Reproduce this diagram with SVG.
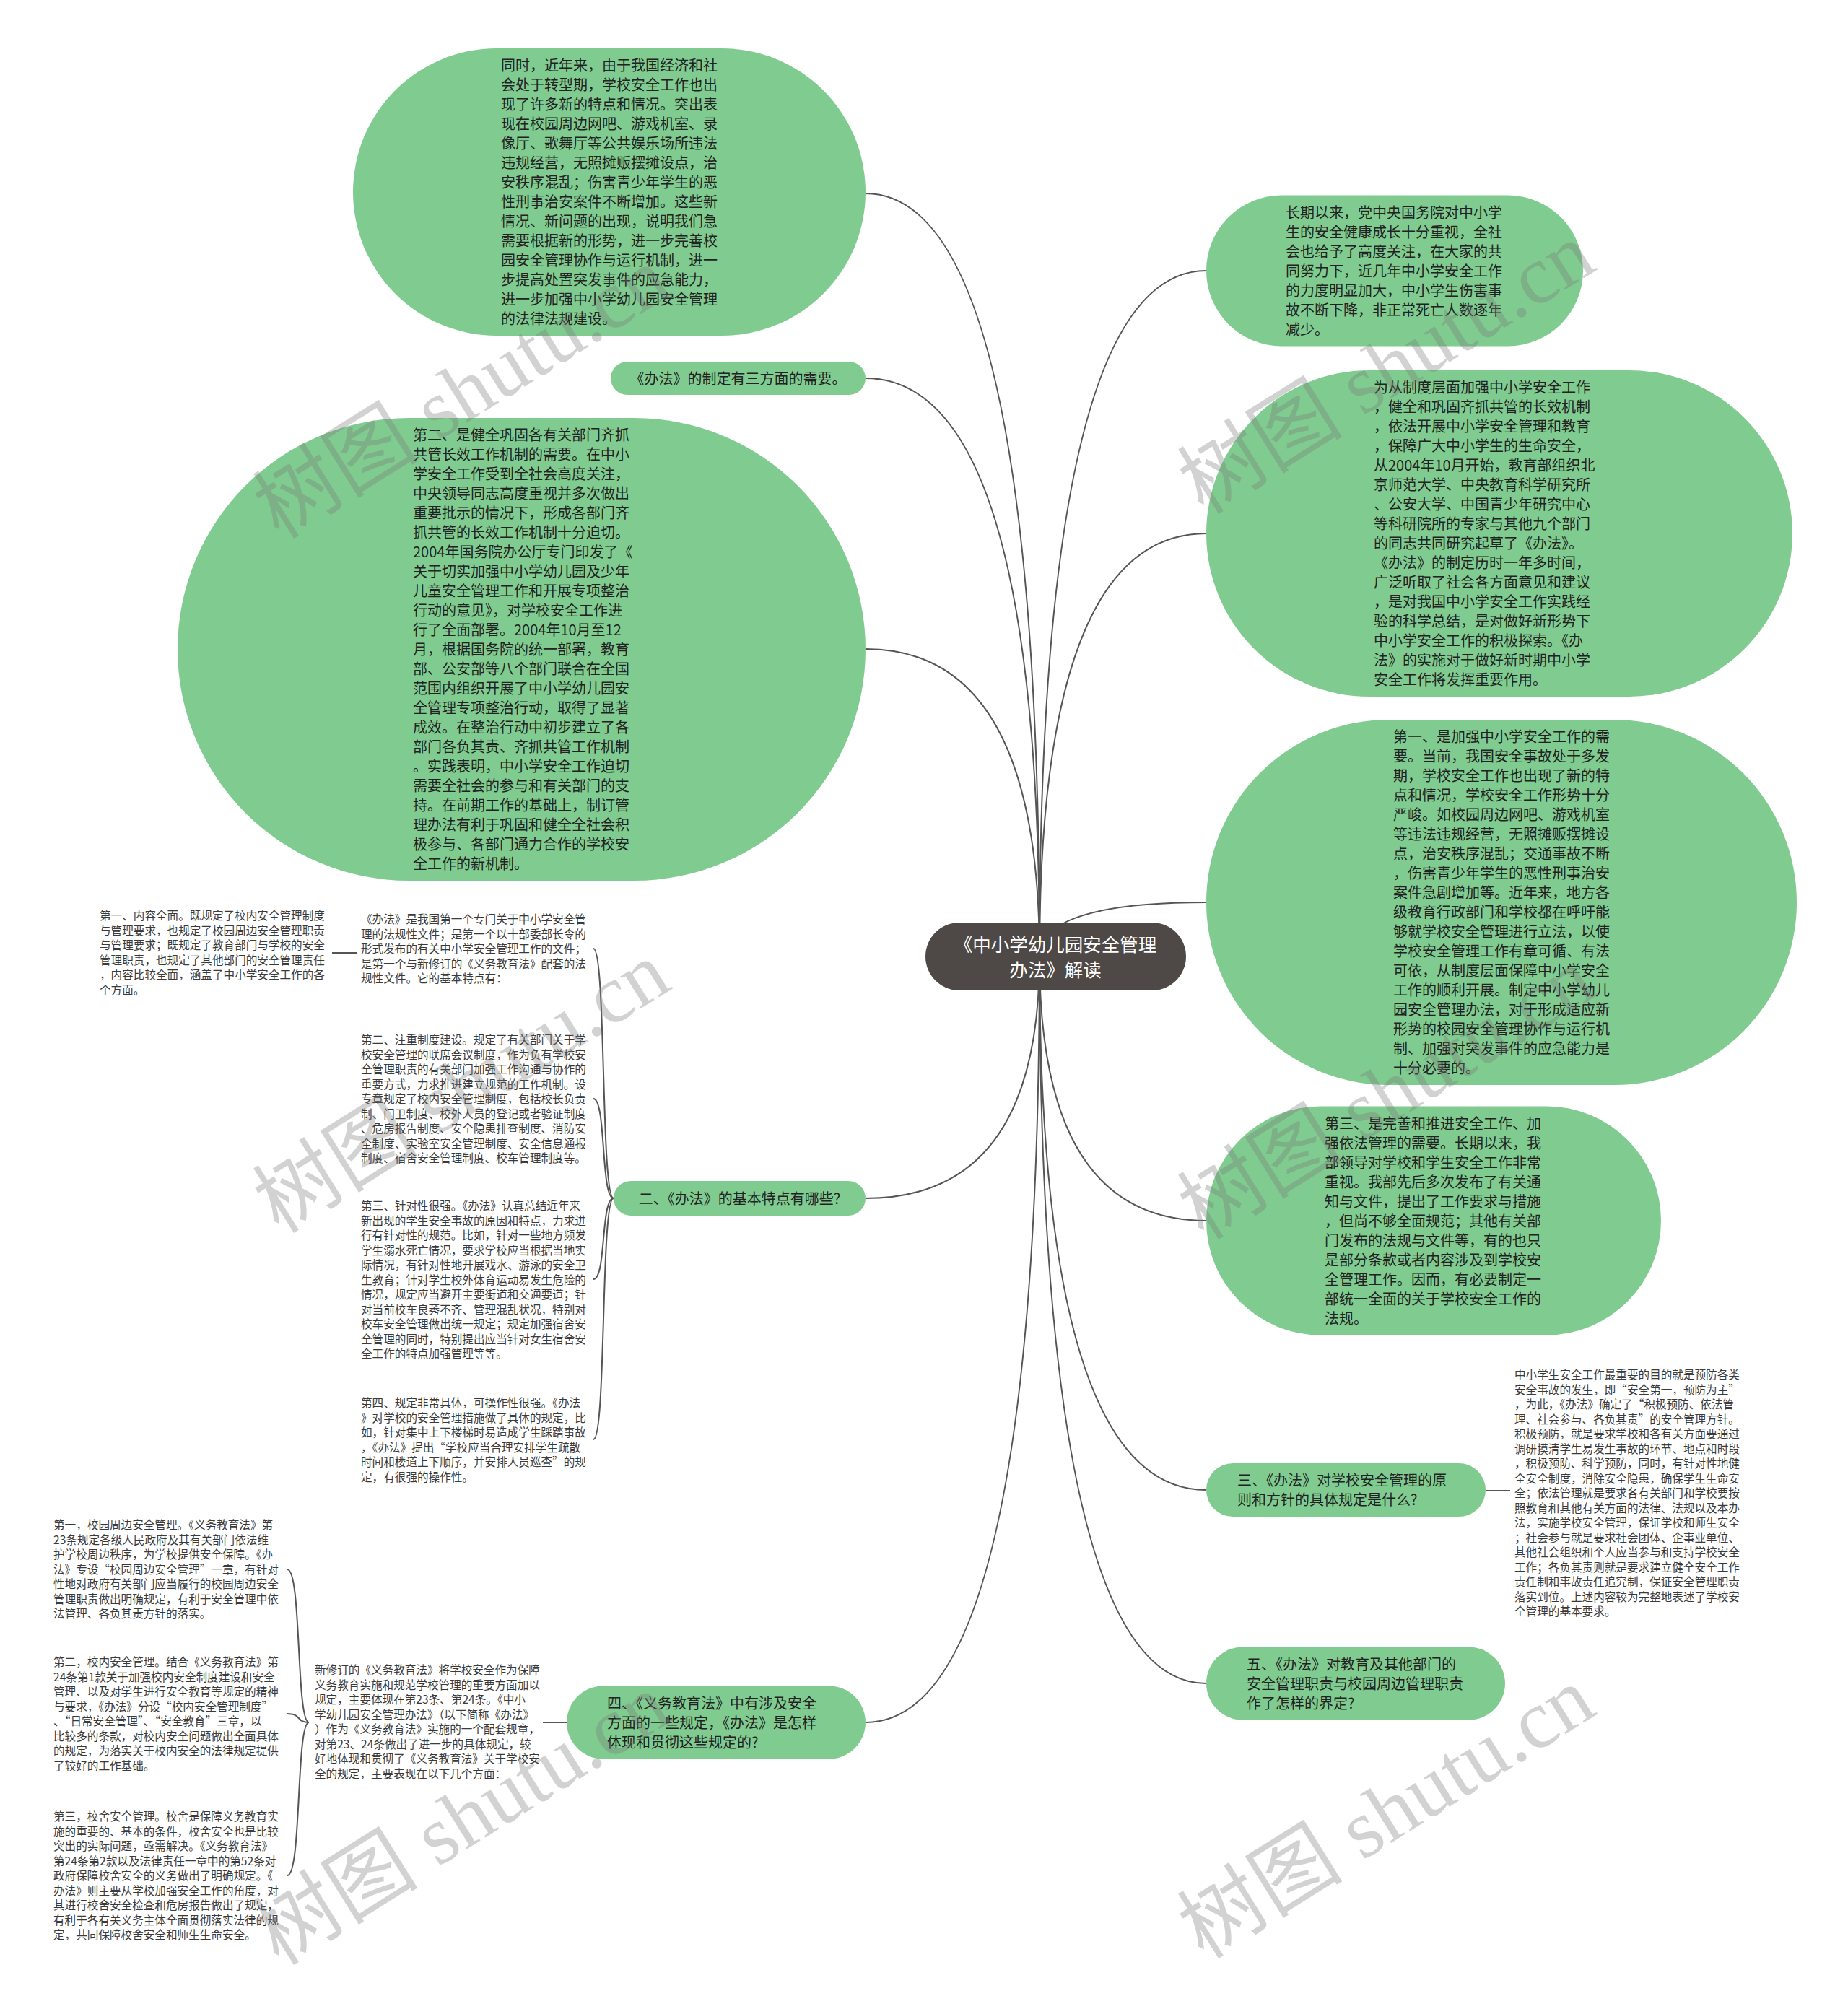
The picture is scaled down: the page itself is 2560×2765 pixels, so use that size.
<svg xmlns="http://www.w3.org/2000/svg" width="2560" height="2765" viewBox="0 0 2560 2765">
<style>
.n{fill:#80cc90}
.root{fill:#4e4946}
.t{font-family:"Noto Sans CJK SC","Noto Sans",sans-serif;font-size:20px;fill:#222}
.s{font-family:"Noto Sans CJK SC","Noto Sans",sans-serif;font-size:15.6px;fill:#3a3a3a}
.rt{font-family:"Noto Sans CJK SC","Noto Sans",sans-serif;font-size:25.5px;fill:#fff}
.c{fill:none;stroke:#555;stroke-width:2}
.wm{font-family:"Liberation Serif","Noto Sans CJK SC",serif;font-size:115px;fill:#7a7a7a;opacity:0.33}
</style>
<rect width="2560" height="2765" fill="#fff"/>
<g id="connectors">
<path class="c" d="M1440,1325 Q1440,268 1199,268"/>
<path class="c" d="M1440,1325 Q1440,524 1199,524"/>
<path class="c" d="M1440,1325 Q1440,899 1199,899"/>
<path class="c" d="M1440,1325 Q1440,1660 1199,1660"/>
<path class="c" d="M1440,1325 Q1440,2386 1199,2386"/>
<path class="c" d="M1440,1325 Q1440,375 1671,375"/>
<path class="c" d="M1440,1325 Q1440,739 1671,739"/>
<path class="c" d="M1440,1325 Q1440,1250 1671,1250"/>
<path class="c" d="M1440,1325 Q1440,1691 1671,1691"/>
<path class="c" d="M1440,1325 Q1440,2064 1671,2064"/>
<path class="c" d="M1440,1325 Q1440,2332 1671,2332"/>
<path class="c" d="M850,1660 C832,1660 840,1314 822,1314"/>
<path class="c" d="M850,1660 C832,1660 840,1522 822,1522"/>
<path class="c" d="M850,1660 C832,1660 840,1772 822,1772"/>
<path class="c" d="M850,1660 C832,1660 840,1994 822,1994"/>
<path class="c" d="M494,1320 L460,1320"/>
<path class="c" d="M785,2386 L752,2386"/>
<path class="c" d="M428,2386 C410,2386 418,2174 398,2174"/>
<path class="c" d="M428,2386 C410,2386 418,2374 398,2374"/>
<path class="c" d="M428,2386 C410,2386 418,2598 398,2598"/>
<path class="c" d="M2059,2065 L2092,2065"/>
</g>
<g id="root">
<rect class="root" x="1282" y="1278" width="361" height="94" rx="47"/>
<text class="rt" text-anchor="middle" x="1462" y="1318">《中小学幼儿园安全管理<tspan x="1462" dy="35">办法》解读</tspan></text>
</g>
<g id="nodeA">
<rect class="n" x="489" y="67" width="710" height="398" rx="199"/>
<text class="t" x="694" y="98"><tspan x="694">同时，近年来，由于我国经济和社</tspan><tspan x="694" dy="27">会处于转型期，学校安全工作也出</tspan><tspan x="694" dy="27">现了许多新的特点和情况。突出表</tspan><tspan x="694" dy="27">现在校园周边网吧、游戏机室、录</tspan><tspan x="694" dy="27">像厅、歌舞厅等公共娱乐场所违法</tspan><tspan x="694" dy="27">违规经营，无照摊贩摆摊设点，治</tspan><tspan x="694" dy="27">安秩序混乱；伤害青少年学生的恶</tspan><tspan x="694" dy="27">性刑事治安案件不断增加。这些新</tspan><tspan x="694" dy="27">情况、新问题的出现，说明我们急</tspan><tspan x="694" dy="27">需要根据新的形势，进一步完善校</tspan><tspan x="694" dy="27">园安全管理协作与运行机制，进一</tspan><tspan x="694" dy="27">步提高处置突发事件的应急能力，</tspan><tspan x="694" dy="27">进一步加强中小学幼儿园安全管理</tspan><tspan x="694" dy="27">的法律法规建设。</tspan></text>
</g>
<g id="nodeB">
<rect class="n" x="846" y="501" width="353" height="46" rx="23"/>
<text class="t" text-anchor="middle" x="1022.5" y="531.6">《办法》的制定有三方面的需要。</text>
</g>
<g id="nodeC">
<rect class="n" x="246" y="579" width="953" height="641" rx="320.5"/>
<text class="t" x="572" y="610"><tspan x="572">第二、是健全巩固各有关部门齐抓</tspan><tspan x="572" dy="27">共管长效工作机制的需要。在中小</tspan><tspan x="572" dy="27">学安全工作受到全社会高度关注，</tspan><tspan x="572" dy="27">中央领导同志高度重视并多次做出</tspan><tspan x="572" dy="27">重要批示的情况下，形成各部门齐</tspan><tspan x="572" dy="27">抓共管的长效工作机制十分迫切。</tspan><tspan x="572" dy="27">2004年国务院办公厅专门印发了《</tspan><tspan x="572" dy="27">关于切实加强中小学幼儿园及少年</tspan><tspan x="572" dy="27">儿童安全管理工作和开展专项整治</tspan><tspan x="572" dy="27">行动的意见》，对学校安全工作进</tspan><tspan x="572" dy="27">行了全面部署。2004年10月至12</tspan><tspan x="572" dy="27">月，根据国务院的统一部署，教育</tspan><tspan x="572" dy="27">部、公安部等八个部门联合在全国</tspan><tspan x="572" dy="27">范围内组织开展了中小学幼儿园安</tspan><tspan x="572" dy="27">全管理专项整治行动，取得了显著</tspan><tspan x="572" dy="27">成效。在整治行动中初步建立了各</tspan><tspan x="572" dy="27">部门各负其责、齐抓共管工作机制</tspan><tspan x="572" dy="27">。实践表明，中小学安全工作迫切</tspan><tspan x="572" dy="27">需要全社会的参与和有关部门的支</tspan><tspan x="572" dy="27">持。在前期工作的基础上，制订管</tspan><tspan x="572" dy="27">理办法有利于巩固和健全全社会积</tspan><tspan x="572" dy="27">极参与、各部门通力合作的学校安</tspan><tspan x="572" dy="27">全工作的新机制。</tspan></text>
</g>
<g id="nodeD">
<rect class="n" x="850" y="1636" width="349" height="48" rx="24"/>
<text class="t" text-anchor="middle" x="1024.5" y="1667.6">二、《办法》的基本特点有哪些?</text>
</g>
<g id="nodeD1">
<text class="s" x="500" y="1279"><tspan x="500">《办法》是我国第一个专门关于中小学安全管</tspan><tspan x="500" dy="20.5">理的法规性文件；是第一个以十部委部长令的</tspan><tspan x="500" dy="20.5">形式发布的有关中小学安全管理工作的文件；</tspan><tspan x="500" dy="20.5">是第一个与新修订的《义务教育法》配套的法</tspan><tspan x="500" dy="20.5">规性文件。它的基本特点有：</tspan></text>
</g>
<g id="nodeD1a">
<text class="s" x="138" y="1274"><tspan x="138">第一、内容全面。既规定了校内安全管理制度</tspan><tspan x="138" dy="20.5">与管理要求，也规定了校园周边安全管理职责</tspan><tspan x="138" dy="20.5">与管理要求；既规定了教育部门与学校的安全</tspan><tspan x="138" dy="20.5">管理职责，也规定了其他部门的安全管理责任</tspan><tspan x="138" dy="20.5">，内容比较全面，涵盖了中小学安全工作的各</tspan><tspan x="138" dy="20.5">个方面。</tspan></text>
</g>
<g id="nodeD2">
<text class="s" x="500" y="1446"><tspan x="500">第二、注重制度建设。规定了有关部门关于学</tspan><tspan x="500" dy="20.5">校安全管理的联席会议制度，作为负有学校安</tspan><tspan x="500" dy="20.5">全管理职责的有关部门加强工作沟通与协作的</tspan><tspan x="500" dy="20.5">重要方式，力求推进建立规范的工作机制。设</tspan><tspan x="500" dy="20.5">专章规定了校内安全管理制度，包括校长负责</tspan><tspan x="500" dy="20.5">制、门卫制度、校外人员的登记或者验证制度</tspan><tspan x="500" dy="20.5">、危房报告制度、安全隐患排查制度、消防安</tspan><tspan x="500" dy="20.5">全制度、实验室安全管理制度、安全信息通报</tspan><tspan x="500" dy="20.5">制度、宿舍安全管理制度、校车管理制度等。</tspan></text>
</g>
<g id="nodeD3">
<text class="s" x="500" y="1676"><tspan x="500">第三、针对性很强。《办法》认真总结近年来</tspan><tspan x="500" dy="20.5">新出现的学生安全事故的原因和特点，力求进</tspan><tspan x="500" dy="20.5">行有针对性的规范。比如，针对一些地方频发</tspan><tspan x="500" dy="20.5">学生溺水死亡情况，要求学校应当根据当地实</tspan><tspan x="500" dy="20.5">际情况，有针对性地开展戏水、游泳的安全卫</tspan><tspan x="500" dy="20.5">生教育；针对学生校外体育运动易发生危险的</tspan><tspan x="500" dy="20.5">情况，规定应当避开主要街道和交通要道；针</tspan><tspan x="500" dy="20.5">对当前校车良莠不齐、管理混乱状况，特别对</tspan><tspan x="500" dy="20.5">校车安全管理做出统一规定；规定加强宿舍安</tspan><tspan x="500" dy="20.5">全管理的同时，特别提出应当针对女生宿舍安</tspan><tspan x="500" dy="20.5">全工作的特点加强管理等等。</tspan></text>
</g>
<g id="nodeD4">
<text class="s" x="500" y="1949"><tspan x="500">第四、规定非常具体，可操作性很强。《办法</tspan><tspan x="500" dy="20.5">》对学校的安全管理措施做了具体的规定，比</tspan><tspan x="500" dy="20.5">如，针对集中上下楼梯时易造成学生踩踏事故</tspan><tspan x="500" dy="20.5">，《办法》提出“学校应当合理安排学生疏散</tspan><tspan x="500" dy="20.5">时间和楼道上下顺序，并安排人员巡查”的规</tspan><tspan x="500" dy="20.5">定，有很强的操作性。</tspan></text>
</g>
<g id="nodeE">
<rect class="n" x="785" y="2335.5" width="414" height="101" rx="50.5"/>
<text class="t" x="841" y="2366.6"><tspan x="841">四、《义务教育法》中有涉及安全</tspan><tspan x="841" dy="27">方面的一些规定，《办法》是怎样</tspan><tspan x="841" dy="27">体现和贯彻这些规定的?</tspan></text>
</g>
<g id="nodeE1">
<text class="s" x="436" y="2319"><tspan x="436">新修订的《义务教育法》将学校安全作为保障</tspan><tspan x="436" dy="20.5">义务教育实施和规范学校管理的重要方面加以</tspan><tspan x="436" dy="20.5">规定，主要体现在第23条、第24条。《中小</tspan><tspan x="436" dy="20.5">学幼儿园安全管理办法》（以下简称《办法》</tspan><tspan x="436" dy="20.5">）作为《义务教育法》实施的一个配套规章，</tspan><tspan x="436" dy="20.5">对第23、24条做出了进一步的具体规定，较</tspan><tspan x="436" dy="20.5">好地体现和贯彻了《义务教育法》关于学校安</tspan><tspan x="436" dy="20.5">全的规定，主要表现在以下几个方面：</tspan></text>
</g>
<g id="nodeE1a">
<text class="s" x="74" y="2118"><tspan x="74">第一，校园周边安全管理。《义务教育法》第</tspan><tspan x="74" dy="20.5">23条规定各级人民政府及其有关部门依法维</tspan><tspan x="74" dy="20.5">护学校周边秩序，为学校提供安全保障。《办</tspan><tspan x="74" dy="20.5">法》专设“校园周边安全管理”一章，有针对</tspan><tspan x="74" dy="20.5">性地对政府有关部门应当履行的校园周边安全</tspan><tspan x="74" dy="20.5">管理职责做出明确规定，有利于安全管理中依</tspan><tspan x="74" dy="20.5">法管理、各负其责方针的落实。</tspan></text>
</g>
<g id="nodeE1b">
<text class="s" x="74" y="2308"><tspan x="74">第二，校内安全管理。结合《义务教育法》第</tspan><tspan x="74" dy="20.5">24条第1款关于加强校内安全制度建设和安全</tspan><tspan x="74" dy="20.5">管理、以及对学生进行安全教育等规定的精神</tspan><tspan x="74" dy="20.5">与要求，《办法》分设“校内安全管理制度”</tspan><tspan x="74" dy="20.5">、“日常安全管理”、“安全教育”三章，以</tspan><tspan x="74" dy="20.5">比较多的条款，对校内安全问题做出全面具体</tspan><tspan x="74" dy="20.5">的规定，为落实关于校内安全的法律规定提供</tspan><tspan x="74" dy="20.5">了较好的工作基础。</tspan></text>
</g>
<g id="nodeE1c">
<text class="s" x="74" y="2522"><tspan x="74">第三，校舍安全管理。校舍是保障义务教育实</tspan><tspan x="74" dy="20.5">施的重要的、基本的条件，校舍安全也是比较</tspan><tspan x="74" dy="20.5">突出的实际问题，亟需解决。《义务教育法》</tspan><tspan x="74" dy="20.5">第24条第2款以及法律责任一章中的第52条对</tspan><tspan x="74" dy="20.5">政府保障校舍安全的义务做出了明确规定。《</tspan><tspan x="74" dy="20.5">办法》则主要从学校加强安全工作的角度，对</tspan><tspan x="74" dy="20.5">其进行校舍安全检查和危房报告做出了规定，</tspan><tspan x="74" dy="20.5">有利于各有关义务主体全面贯彻落实法律的规</tspan><tspan x="74" dy="20.5">定，共同保障校舍安全和师生生命安全。</tspan></text>
</g>
<g id="nodeF">
<rect class="n" x="1671" y="270.5" width="522" height="209" rx="104.5"/>
<text class="t" x="1781" y="301.6"><tspan x="1781">长期以来，党中央国务院对中小学</tspan><tspan x="1781" dy="27">生的安全健康成长十分重视，全社</tspan><tspan x="1781" dy="27">会也给予了高度关注，在大家的共</tspan><tspan x="1781" dy="27">同努力下，近几年中小学安全工作</tspan><tspan x="1781" dy="27">的力度明显加大，中小学生伤害事</tspan><tspan x="1781" dy="27">故不断下降，非正常死亡人数逐年</tspan><tspan x="1781" dy="27">减少。</tspan></text>
</g>
<g id="nodeG">
<rect class="n" x="1671" y="513" width="812" height="452" rx="226"/>
<text class="t" x="1903" y="544"><tspan x="1903">为从制度层面加强中小学安全工作</tspan><tspan x="1903" dy="27">，健全和巩固齐抓共管的长效机制</tspan><tspan x="1903" dy="27">，依法开展中小学安全管理和教育</tspan><tspan x="1903" dy="27">，保障广大中小学生的生命安全，</tspan><tspan x="1903" dy="27">从2004年10月开始，教育部组织北</tspan><tspan x="1903" dy="27">京师范大学、中央教育科学研究所</tspan><tspan x="1903" dy="27">、公安大学、中国青少年研究中心</tspan><tspan x="1903" dy="27">等科研院所的专家与其他九个部门</tspan><tspan x="1903" dy="27">的同志共同研究起草了《办法》。</tspan><tspan x="1903" dy="27">《办法》的制定历时一年多时间，</tspan><tspan x="1903" dy="27">广泛听取了社会各方面意见和建议</tspan><tspan x="1903" dy="27">，是对我国中小学安全工作实践经</tspan><tspan x="1903" dy="27">验的科学总结，是对做好新形势下</tspan><tspan x="1903" dy="27">中小学安全工作的积极探索。《办</tspan><tspan x="1903" dy="27">法》的实施对于做好新时期中小学</tspan><tspan x="1903" dy="27">安全工作将发挥重要作用。</tspan></text>
</g>
<g id="nodeH">
<rect class="n" x="1671" y="997" width="818" height="506" rx="253"/>
<text class="t" x="1930" y="1028"><tspan x="1930">第一、是加强中小学安全工作的需</tspan><tspan x="1930" dy="27">要。当前，我国安全事故处于多发</tspan><tspan x="1930" dy="27">期，学校安全工作也出现了新的特</tspan><tspan x="1930" dy="27">点和情况，学校安全工作形势十分</tspan><tspan x="1930" dy="27">严峻。如校园周边网吧、游戏机室</tspan><tspan x="1930" dy="27">等违法违规经营，无照摊贩摆摊设</tspan><tspan x="1930" dy="27">点，治安秩序混乱；交通事故不断</tspan><tspan x="1930" dy="27">，伤害青少年学生的恶性刑事治安</tspan><tspan x="1930" dy="27">案件急剧增加等。近年来，地方各</tspan><tspan x="1930" dy="27">级教育行政部门和学校都在呼吁能</tspan><tspan x="1930" dy="27">够就学校安全管理进行立法，以使</tspan><tspan x="1930" dy="27">学校安全管理工作有章可循、有法</tspan><tspan x="1930" dy="27">可依，从制度层面保障中小学安全</tspan><tspan x="1930" dy="27">工作的顺利开展。制定中小学幼儿</tspan><tspan x="1930" dy="27">园安全管理办法，对于形成适应新</tspan><tspan x="1930" dy="27">形势的校园安全管理协作与运行机</tspan><tspan x="1930" dy="27">制、加强对突发事件的应急能力是</tspan><tspan x="1930" dy="27">十分必要的。</tspan></text>
</g>
<g id="nodeI">
<rect class="n" x="1671" y="1532.5" width="630" height="317" rx="158.5"/>
<text class="t" x="1835" y="1563.6"><tspan x="1835">第三、是完善和推进安全工作、加</tspan><tspan x="1835" dy="27">强依法管理的需要。长期以来，我</tspan><tspan x="1835" dy="27">部领导对学校和学生安全工作非常</tspan><tspan x="1835" dy="27">重视。我部先后多次发布了有关通</tspan><tspan x="1835" dy="27">知与文件，提出了工作要求与措施</tspan><tspan x="1835" dy="27">，但尚不够全面规范；其他有关部</tspan><tspan x="1835" dy="27">门发布的法规与文件等，有的也只</tspan><tspan x="1835" dy="27">是部分条款或者内容涉及到学校安</tspan><tspan x="1835" dy="27">全管理工作。因而，有必要制定一</tspan><tspan x="1835" dy="27">部统一全面的关于学校安全工作的</tspan><tspan x="1835" dy="27">法规。</tspan></text>
</g>
<g id="nodeJ">
<rect class="n" x="1671" y="2027" width="387" height="74" rx="37"/>
<text class="t" x="1714" y="2058"><tspan x="1714">三、《办法》对学校安全管理的原</tspan><tspan x="1714" dy="27">则和方针的具体规定是什么?</tspan></text>
</g>
<g id="nodeJ1">
<text class="s" x="2098" y="1910"><tspan x="2098">中小学生安全工作最重要的目的就是预防各类</tspan><tspan x="2098" dy="20.5">安全事故的发生，即“安全第一，预防为主”</tspan><tspan x="2098" dy="20.5">，为此，《办法》确定了“积极预防、依法管</tspan><tspan x="2098" dy="20.5">理、社会参与、各负其责”的安全管理方针。</tspan><tspan x="2098" dy="20.5">积极预防，就是要求学校和各有关方面要通过</tspan><tspan x="2098" dy="20.5">调研摸清学生易发生事故的环节、地点和时段</tspan><tspan x="2098" dy="20.5">，积极预防、科学预防，同时，有针对性地健</tspan><tspan x="2098" dy="20.5">全安全制度，消除安全隐患，确保学生生命安</tspan><tspan x="2098" dy="20.5">全；依法管理就是要求各有关部门和学校要按</tspan><tspan x="2098" dy="20.5">照教育和其他有关方面的法律、法规以及本办</tspan><tspan x="2098" dy="20.5">法，实施学校安全管理，保证学校和师生安全</tspan><tspan x="2098" dy="20.5">；社会参与就是要求社会团体、企事业单位、</tspan><tspan x="2098" dy="20.5">其他社会组织和个人应当参与和支持学校安全</tspan><tspan x="2098" dy="20.5">工作；各负其责则就是要求建立健全安全工作</tspan><tspan x="2098" dy="20.5">责任制和事故责任追究制，保证安全管理职责</tspan><tspan x="2098" dy="20.5">落实到位。上述内容较为完整地表述了学校安</tspan><tspan x="2098" dy="20.5">全管理的基本要求。</tspan></text>
</g>
<g id="nodeK">
<rect class="n" x="1671" y="2281.5" width="414" height="101" rx="50.5"/>
<text class="t" x="1727" y="2312.6"><tspan x="1727">五、《办法》对教育及其他部门的</tspan><tspan x="1727" dy="27">安全管理职责与校园周边管理职责</tspan><tspan x="1727" dy="27">作了怎样的界定?</tspan></text>
</g>
<g id="watermarks">
<text class="wm" text-anchor="middle" transform="translate(640,545) rotate(-32)" y="38">树图 shutu.cn</text>
<text class="wm" text-anchor="middle" transform="translate(1921,511) rotate(-32)" y="38">树图 shutu.cn</text>
<text class="wm" text-anchor="middle" transform="translate(640,1507) rotate(-32)" y="38">树图 shutu.cn</text>
<text class="wm" text-anchor="middle" transform="translate(1921,1516) rotate(-32)" y="38">树图 shutu.cn</text>
<text class="wm" text-anchor="middle" transform="translate(640,2521) rotate(-32)" y="38">树图 shutu.cn</text>
<text class="wm" text-anchor="middle" transform="translate(1921,2512) rotate(-32)" y="38">树图 shutu.cn</text>
</g>
</svg>
